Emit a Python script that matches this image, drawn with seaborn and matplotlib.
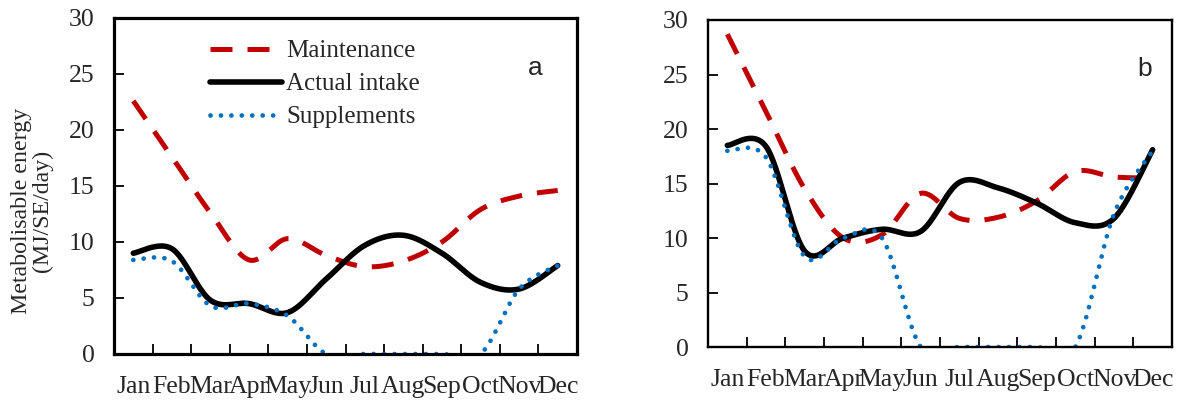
import numpy as np
import pandas as pd
import matplotlib
matplotlib.use("Agg")
import matplotlib.pyplot as plt
from matplotlib.lines import Line2D
import seaborn as sns

# =====================================================
# DATA
# =====================================================

months = ["Jan", "Feb", "Mar", "Apr", "May", "Jun",
          "Jul", "Aug", "Sep", "Oct", "Nov", "Dec"]

maint_a = [22.6, 17.6, 12.6, 8.4, 10.3, 8.8, 7.8, 8.3, 10.0, 12.9, 14.1, 14.6]
intake_a = [9.0, 9.4, 4.8, 4.5, 3.7, 6.7, 9.7, 10.6, 9.0, 6.4, 5.8, 7.9]
supp_a = [8.4, 8.3, 4.3, 4.5, 3.4, 0.0, 0.0, 0.0, 0.0, 0.0, 5.8, 7.9]

maint_b = [28.7, 21.6, 14.5, 10.0, 10.3, 14.1, 11.8, 11.9, 13.4, 16.1, 15.6, 15.5]
intake_b = [18.5, 18.4, 8.8, 10.0, 10.8, 10.6, 15.1, 14.6, 13.2, 11.4, 11.8, 18.1]
supp_b = [18.0, 17.4, 8.3, 10.0, 10.0, 0.0, 0.0, 0.0, 0.0, 0.0, 12.2, 18.0]

series_names = ["Maintenance", "Actual intake", "Supplements"]

RED = "#C00000"
BLUE = "#0070C0"


# Excel-style smoothed line (cubic Bezier through every point)
def smooth(y, n=40):
    y = np.asarray(y, dtype=float)
    x = np.arange(len(y), dtype=float)
    pts = np.column_stack([x, y])
    out = []
    for i in range(len(pts) - 1):
        p0 = pts[max(i - 1, 0)]
        p1 = pts[i]
        p2 = pts[i + 1]
        p3 = pts[min(i + 2, len(pts) - 1)]
        c1 = p1 + (p2 - p0) / 6.0
        c2 = p2 - (p3 - p1) / 6.0
        t = np.linspace(0, 1, n, endpoint=(i == len(pts) - 2))[:, None]
        seg = ((1 - t) ** 3) * p1 + 3 * ((1 - t) ** 2) * t * c1 \
            + 3 * (1 - t) * t ** 2 * c2 + t ** 3 * p2
        out.append(seg)
    out = np.vstack(out)
    return out[:, 0], out[:, 1]


sns.set_style("white")
plt.rcParams["font.family"] = ["Liberation Serif", "DejaVu Serif"]

fig = plt.figure(figsize=(11.78, 4.0), dpi=100)
ax_a = fig.add_axes([114 / 1178, 1 - 354 / 400, 463 / 1178, 336 / 400])
ax_b = fig.add_axes([708 / 1178, 1 - 347 / 400, 464 / 1178, 327 / 400])

styles = {
    "Maintenance": dict(color=RED, lw=3.6, dashes=(4.4, 3.0), dash_capstyle="butt"),
    "Actual intake": dict(color="black", lw=4.0, solid_capstyle="round"),
    "Supplements": dict(color=BLUE, lw=3.4, dashes=(0.01, 2.2), dash_capstyle="round"),
}

panels = [
    (ax_a, [maint_a, intake_a, supp_a], "a", 0.91, 2.3),
    (ax_b, [maint_b, intake_b, supp_b], "b", 0.942, 1.7),
]

for ax, data, tag, tag_x, spw in panels:
    for name, vals in zip(series_names, data):
        xs, ys = smooth(vals)
        df = pd.DataFrame({"x": xs, "y": ys})
        st = dict(styles[name])
        dashes = st.pop("dashes", None)
        sns.lineplot(data=df, x="x", y="y", ax=ax, sort=False,
                     estimator=None, legend=False, **st)
        if dashes is not None:
            ax.lines[-1].set_dashes(dashes)

    ax.set_xlim(-0.5, 11.5)
    ax.set_ylim(0, 30)
    ax.set_xticks(range(12))
    ax.set_xticklabels(months)
    ax.set_xticks(np.arange(0.5, 11.5, 1), minor=True)
    ax.set_yticks(range(0, 31, 5))
    ax.tick_params(axis="x", which="major", length=0, pad=16, labelsize=18.5)
    ax.tick_params(axis="x", which="minor", direction="in", length=7, width=1.3,
                   color="black", bottom=True)
    ax.tick_params(axis="y", direction="in", length=7, width=1.3, color="black",
                   left=True, pad=14, labelsize=18.5)
    ax.set_xlabel("")
    ax.set_ylabel("")
    for sp in ax.spines.values():
        sp.set_visible(True)
        sp.set_color("black")
        sp.set_linewidth(spw)
    ax.text(tag_x, 0.85, tag, transform=ax.transAxes,
            fontsize=19, family="Liberation Sans", ha="center", va="center")

fig.text(32 / 1178, 1 - 211 / 400, "Metabolisable energy\n(MJ/SE/day)",
         rotation=90, ha="center", va="center", fontsize=17.2, linespacing=1.0)

handles = [
    Line2D([], [], color=RED, lw=3.6, dashes=(4.4, 3.0), dash_capstyle="butt"),
    Line2D([], [], color="black", lw=4.0),
    Line2D([], [], color=BLUE, lw=3.4, dashes=(0.01, 2.2), dash_capstyle="round"),
]
ax_a.legend(handles, series_names, loc="upper left", bbox_to_anchor=(0.185, 0.965),
            frameon=False, fontsize=18, handlelength=2.9, handletextpad=0.15,
            labelspacing=0.42, borderaxespad=0)

fig.savefig("out.png", dpi=100)
